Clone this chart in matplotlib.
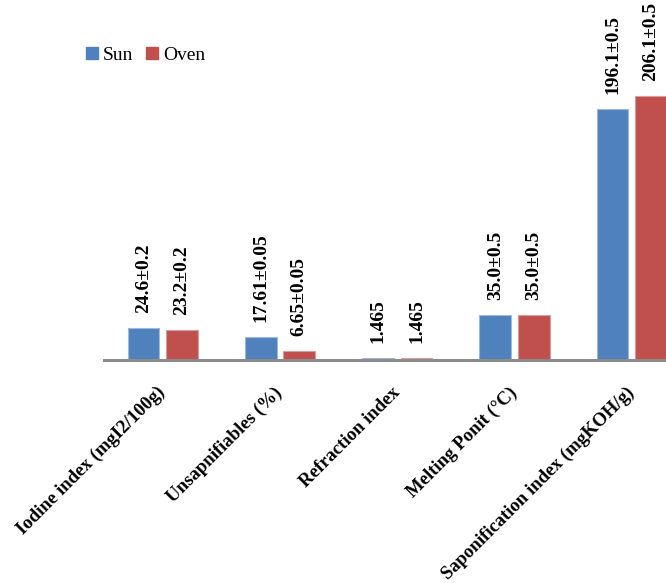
import matplotlib
matplotlib.use("Agg")
import matplotlib.pyplot as plt
import matplotlib.transforms as mtransforms
from matplotlib.lines import Line2D
import numpy as np

categories = ["Iodine index (mgI2/100g)", "Unsapnifiables (%)", "Refraction index",
              "Melting Ponit (°C)", "Saponification index (mgKOH/g)"]
sun = [24.6, 17.61, 1.465, 35.0, 196.1]
oven = [23.2, 6.65, 1.465, 35.0, 206.1]
sun_labels = ["24.6±0.2", "17.61±0.05", "1.465", "35.0±0.5", "196.1±0.5"]
oven_labels = ["23.2±0.2", "6.65±0.05", "1.465", "35.0±0.5", "206.1±0.5"]

SUN_COLOR = "#4F81BD"
OVEN_COLOR = "#C0504D"

plt.rcParams["font.family"] = ["Liberation Serif", "DejaVu Serif"]

W, H = 666, 583
fig = plt.figure(figsize=(W / 100, H / 100), dpi=100)

# axes spans from the first group's left edge to the right border of the figure
x0_px, base_px = 104, 360
ax = fig.add_axes([x0_px / W, 1 - base_px / H, 1 - x0_px / W, base_px / H])

x = np.arange(len(categories))
width = 0.27
off = 0.164
b1 = ax.bar(x - off, sun, width, color=SUN_COLOR, edgecolor="#9DB8DA", linewidth=0.8, zorder=2)
b2 = ax.bar(x + off, oven, width, color=OVEN_COLOR, edgecolor="#DA9D9B", linewidth=0.8, zorder=2)

step_px = 117.3
ax.set_xlim(-0.5, -0.5 + (W - x0_px) / step_px)
ax.set_ylim(0, base_px / 1.281)

for bars, labels in ((b1, sun_labels), (b2, oven_labels)):
    for rect, lab in zip(bars, labels):
        ax.annotate(lab, (rect.get_x() + rect.get_width() / 2, rect.get_height()),
                    xytext=(0, 11), textcoords="offset points",
                    rotation=90, ha="center", va="bottom",
                    fontsize=14, fontweight="bold", color="black")

for s in ("left", "right", "top"):
    ax.spines[s].set_visible(False)
ax.spines["bottom"].set_color("#8C8C8C")
ax.spines["bottom"].set_linewidth(2.2)
ax.spines["bottom"].set_zorder(3)
ax.set_yticks([])
ax.set_xticks(x)
ax.tick_params(axis="x", length=0, pad=17)
ax.set_xticklabels(categories, rotation=45, ha="right", fontsize=13.5, fontweight="bold")
shift = mtransforms.ScaledTranslation(6 / 100, 0, fig.dpi_scale_trans)
for lbl in ax.get_xticklabels():
    lbl.set_transform(lbl.get_transform() + shift)

handles = [Line2D([], [], marker="s", linestyle="none", markersize=8, color=SUN_COLOR),
           Line2D([], [], marker="s", linestyle="none", markersize=8, color=OVEN_COLOR)]
fig.legend(handles, ["Sun", "Oven"], loc="center left",
           bbox_to_anchor=(86 / W, 1 - 55 / H), ncol=2, frameon=False,
           fontsize=14, handlelength=0.6, handletextpad=0.25, columnspacing=0.7,
           borderpad=0, borderaxespad=0)

fig.savefig("out.png", dpi=100)
